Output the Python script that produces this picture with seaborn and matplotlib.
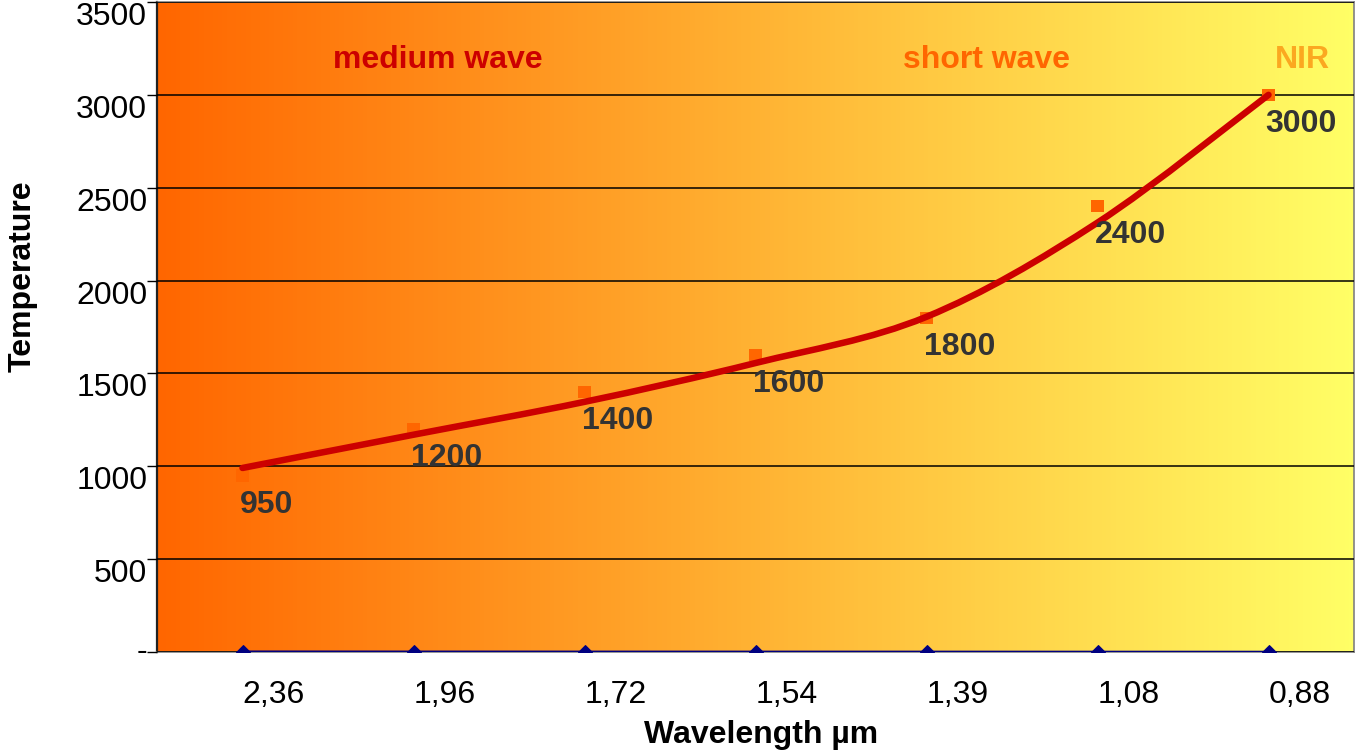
import numpy as np
import pandas as pd
import seaborn as sns
import matplotlib
matplotlib.use('Agg')
import matplotlib.pyplot as plt
from matplotlib.colors import LinearSegmentedColormap
from matplotlib.path import Path
from matplotlib.patches import PathPatch

# Chart data
wavelength_labels = ['2,36', '1,96', '1,72', '1,54', '1,39', '1,08', '0,88']
wavelength = [2.36, 1.96, 1.72, 1.54, 1.39, 1.08, 0.88]
temperature = [950, 1200, 1400, 1600, 1800, 2400, 3000]
# smoothed red curve, read at each category
trend = [991, 1170, 1347, 1556, 1805, 2312, 3000]

y_ticks = [0, 500, 1000, 1500, 2000, 2500, 3000, 3500]
y_tick_labels = ['-', '500', '1000', '1500', '2000', '2500', '3000', '3500']

bands = ['medium wave', 'short wave', 'NIR']
band_colors = ['#CC0000', '#FF6600', '#FBA820']
band_pos = [0.2346, 0.693, 0.957]

sns.set_theme(style='white')
plt.rcParams['font.family'] = ['Liberation Sans', 'DejaVu Sans']

pos = np.arange(len(wavelength_labels))
df = pd.DataFrame({'pos': pos, 'wavelength': wavelength,
                   'temperature': temperature, 'trend': trend})

fig = plt.figure(figsize=(13.55, 7.56), dpi=100)
ax = fig.add_axes([157 / 1355, 104 / 756, 1197 / 1355, 650 / 756])

# orange -> yellow gradient background
cmap = LinearSegmentedColormap.from_list('heat', ['#FF6600', '#FFFF66'])
ax.imshow(np.linspace(0, 1, 256).reshape(1, -1), cmap=cmap, aspect='auto',
          extent=[0, 1, 0, 1], transform=ax.transAxes, zorder=0)

# smoothed line (Catmull-Rom style bezier through the curve values)
pts = np.column_stack([df['pos'], df['trend']]).astype(float)
verts = [pts[0]]
codes = [Path.MOVETO]
n = len(pts)
for i in range(n - 1):
    p0 = pts[max(i - 1, 0)]
    p1 = pts[i]
    p2 = pts[i + 1]
    p3 = pts[min(i + 2, n - 1)]
    verts += [p1 + (p2 - p0) / 6, p2 - (p3 - p1) / 6, p2]
    codes += [Path.CURVE4] * 3
ax.add_patch(PathPatch(Path(verts, codes), facecolor='none', edgecolor='#CC0000',
                       lw=4.7, capstyle='round', zorder=5))

# orange data markers
sns.scatterplot(data=df, x='pos', y='temperature', marker='s', s=80,
                color='#FF6600', edgecolor='none', ax=ax, zorder=4, legend=False)

# blue series along the bottom
sns.lineplot(data=df, x='pos', y='wavelength', color='#000080', lw=1.6,
             marker='D', markersize=7, markeredgecolor='#000080', ax=ax,
             zorder=6, sort=False, legend=False)

# data labels
for x, t in zip(pos, temperature):
    ax.annotate(str(t), (x, t), xytext=(-2, -21), textcoords='offset points',
                ha='left', va='center', fontsize=23, fontweight='bold',
                color='#333333', zorder=7)

# band titles
for name, c, xp in zip(bands, band_colors, band_pos):
    ax.text(xp, 0.91, name, transform=ax.transAxes, ha='center', va='center',
            fontsize=23, fontweight='bold', color=c, zorder=7)

ax.set_xlim(-0.5, len(pos) - 0.5)
ax.set_ylim(0, 3500)
ax.set_xticks(pos)
ax.set_xticklabels(wavelength_labels, fontsize=23, ha='left')
ax.set_yticks(y_ticks)
ax.set_yticklabels(y_tick_labels, fontsize=23)
for lab in ax.get_yticklabels():
    lab.set_verticalalignment('top')
ax.get_yticklabels()[0].set_verticalalignment('center')
ax.tick_params(axis='x', length=0, pad=20, colors='black')
ax.tick_params(axis='y', length=7, width=1, pad=0, colors='black', direction='out', left=True)

ax.yaxis.grid(True, color='black', lw=1.1)
ax.xaxis.grid(False)
ax.set_axisbelow(False)

ax.set_xlabel('Wavelength µm', fontsize=23, fontweight='bold', color='black')
ax.set_ylabel('Temperature', fontsize=23, fontweight='bold', color='black')
ax.xaxis.set_label_coords(0.505, -0.105)
ax.yaxis.set_label_coords(-0.100, 0.578)

for side in ['top', 'right', 'bottom']:
    ax.spines[side].set_color('#808080')
    ax.spines[side].set_linewidth(1.2)
ax.spines['left'].set_color('#222222')
ax.spines['left'].set_linewidth(1.6)

fig.savefig('out.png', dpi=100)
